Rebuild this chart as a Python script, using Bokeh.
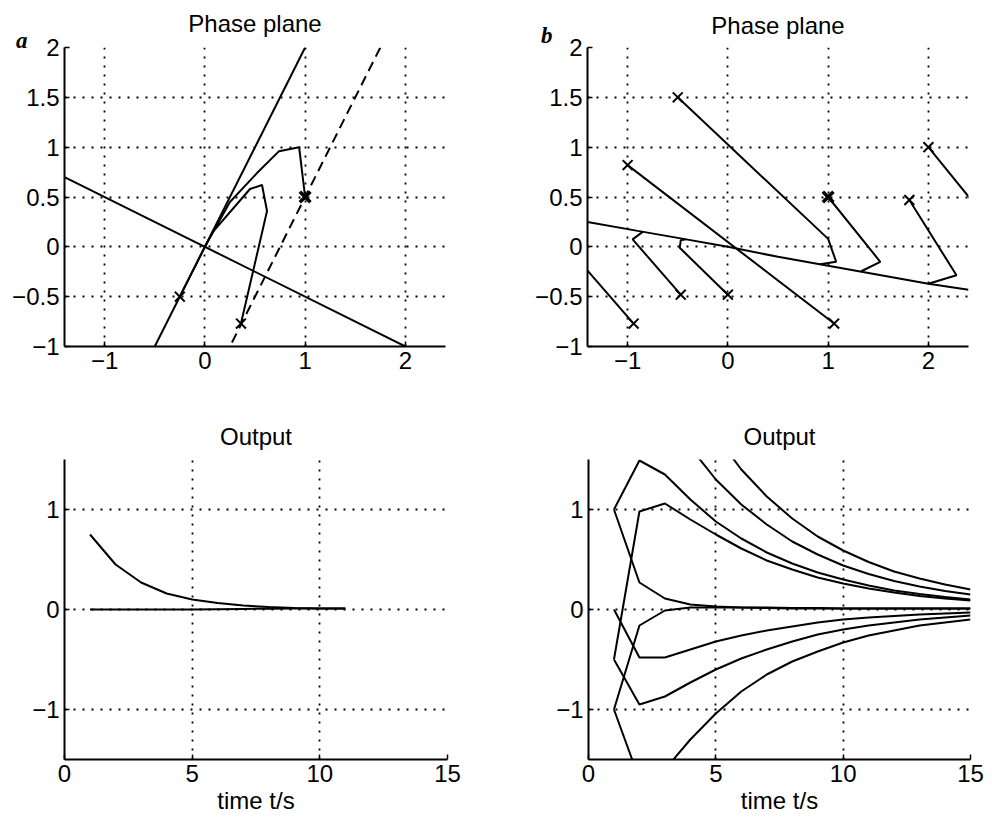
from bokeh.plotting import figure
from bokeh.layouts import row, column
from bokeh.models import Range1d, FixedTicker, LinearAxis
from bokeh.embed import file_html
from bokeh.resources import INLINE

FONT = "Liberation Sans"
FS = "24px"

# ---------------- data ----------------
a_line1_x = [-0.5, 1.0]
a_line1_y = [-1.0, 2.0]
a_line2_x = [-1.4, 2.0]
a_line2_y = [0.7, -1.0]
a_dash_x = [0.27, 1.75]
a_dash_y = [-0.96, 2.0]
a_traj1_x = [1.0, 0.94, 0.74, 0.52, 0.25, 0.0, -0.25]
a_traj1_y = [0.5, 1.0, 0.96, 0.74, 0.45, 0.0, -0.5]
a_traj2_x = [0.36, 0.62, 0.57, 0.45, 0.08, 0.0]
a_traj2_y = [-0.77, 0.36, 0.62, 0.58, 0.15, 0.0]
a_mark_x = [1.0, -0.25, 0.36]
a_mark_y = [0.5, -0.5, -0.77]

b_switch_x = [-1.4, -0.9, -0.5, 0.0, 0.5, 1.0, 1.5, 2.0, 2.4]
b_switch_y = [0.25, 0.16, 0.09, 0.0, -0.1, -0.19, -0.28, -0.37, -0.43]
b_trajs_x = [
    [-0.5, 1.0, 1.08, 0.92],
    [-1.0, 1.06],
    [1.0, 1.52, 1.33],
    [1.81, 2.28, 2.0],
    [2.0, 2.42],
    [-0.47, -0.95, -0.85],
    [0.0, -0.48, -0.47, -0.42],
    [-0.94, -1.45],
]
b_trajs_y = [
    [1.5, 0.08, -0.15, -0.175],
    [0.82, -0.77],
    [0.5, -0.15, -0.245],
    [0.47, -0.285, -0.37],
    [1.0, 0.48],
    [-0.48, 0.075, 0.15],
    [-0.48, -0.01, 0.065, 0.075],
    [-0.77, -0.18],
]
b_mark_x = [-0.5, -1.0, 1.0, 1.81, 2.0, -0.47, 0.0, -0.94, 1.06]
b_mark_y = [1.5, 0.82, 0.5, 0.47, 1.0, -0.48, -0.48, -0.77, -0.77]

out_a_t = [1, 2, 3, 4, 5, 6, 7, 8, 9, 10, 11]
out_a_y1 = [0.75, 0.45, 0.27, 0.16, 0.10, 0.065, 0.04, 0.025, 0.015, 0.01, 0.01]
out_a_y2 = [0.0, 0.0, 0.0, 0.0, 0.0, 0.003, 0.006, 0.008, 0.01, 0.01, 0.01]

out_b_t = list(range(1, 16))
out_b_series = [
    [1.0, 0.27, 0.11, 0.05, 0.03, 0.02, 0.015, 0.01, 0.01, 0.01, 0.01, 0.01, 0.01, 0.01, 0.01],
    [-1.0, -0.16, -0.01, 0.02, 0.02, 0.02, 0.02, 0.015, 0.015, 0.01, 0.01, 0.01, 0.01, 0.01, 0.01],
    [1.0, 1.49, 1.35, 1.1, 0.88, 0.71, 0.57, 0.46, 0.37, 0.3, 0.24, 0.19, 0.155, 0.125, 0.1],
    [-0.5, 0.98, 1.06, 0.9, 0.75, 0.61, 0.49, 0.4, 0.32, 0.26, 0.21, 0.17, 0.135, 0.11, 0.09],
    [3.1, 2.5, 2.0, 1.62, 1.3, 1.05, 0.85, 0.68, 0.55, 0.44, 0.355, 0.285, 0.23, 0.185, 0.15],
    [4.1, 3.3, 2.7, 2.16, 1.74, 1.4, 1.13, 0.91, 0.73, 0.59, 0.475, 0.38, 0.31, 0.25, 0.2],
    [0.0, -0.48, -0.48, -0.4, -0.32, -0.26, -0.21, -0.17, -0.13, -0.1, -0.08, -0.065, -0.05, -0.04, -0.03],
    [-0.5, -0.95, -0.87, -0.73, -0.6, -0.49, -0.4, -0.32, -0.25, -0.2, -0.16, -0.13, -0.1, -0.08, -0.06],
    [-1.0, -1.7, -1.6, -1.3, -1.04, -0.82, -0.65, -0.52, -0.42, -0.33, -0.26, -0.21, -0.16, -0.13, -0.1],
]

phase_xticks = [-1, 0, 1, 2]
phase_xlabels = ["\u22121", "0", "1", "2"]
phase_yticks = [-1, -0.5, 0, 0.5, 1, 1.5, 2]
phase_ylabels = ["\u22121", "\u22120.5", "0", "0.5", "1", "1.5", "2"]
out_xticks = [0, 5, 10, 15]
out_xlabels = ["0", "5", "10", "15"]
out_yticks = [-1, 0, 1]
out_ylabels = ["\u22121", "0", "1"]
panel_letters = ["a", "b"]


def make_fig(title, w, h, bl, br, bt, bb, xr, yr, xt, xl, yt, yl, xgrid, ygrid,
             xlabel=None, title_standoff=18):
    p = figure(width=w, height=h, output_backend="svg", toolbar_location=None,
               x_range=Range1d(*xr), y_range=Range1d(*yr),
               min_border_left=bl, min_border_right=br, min_border_top=bt, min_border_bottom=bb)
    p.title.text = title
    p.title.align = "center"
    p.title.vertical_align = "top"
    p.title.text_font = FONT
    p.title.text_font_size = FS
    p.title.text_font_style = "normal"
    p.title.text_color = "black"
    p.title.standoff = title_standoff
    p.outline_line_color = None
    p.background_fill_color = "white"
    p.border_fill_color = "white"
    for ax, ticks, labels in ((p.xaxis[0], xt, xl), (p.yaxis[0], yt, yl)):
        ax.ticker = FixedTicker(ticks=ticks)
        ax.major_label_overrides = {t: s for t, s in zip(ticks, labels)}
        ax.axis_line_color = "black"
        ax.axis_line_width = 2
        ax.major_tick_in = 5
        ax.major_tick_out = 0
        ax.major_tick_line_width = 1.5
        ax.minor_tick_line_color = None
        ax.major_label_text_font = FONT
        ax.major_label_text_font_size = FS
        ax.major_label_text_color = "black"
        ax.major_label_standoff = 5
    if xlabel:
        p.xaxis.axis_label = xlabel
        p.xaxis.axis_label_text_font = FONT
        p.xaxis.axis_label_text_font_size = FS
        p.xaxis.axis_label_text_font_style = "normal"
        p.xaxis.axis_label_text_color = "black"
        p.xaxis.axis_label_standoff = 2
    p.xgrid.ticker = FixedTicker(ticks=xgrid)
    p.ygrid.ticker = FixedTicker(ticks=ygrid)
    for g in (p.xgrid[0], p.ygrid[0]):
        g.grid_line_color = "black"
        g.grid_line_width = 1.8
        g.grid_line_dash = "2 7"
        g.grid_line_alpha = 1.0
    return p


def add_letter(p, letter, standoff, line_height):
    ax = LinearAxis(ticker=FixedTicker(ticks=[2]), major_label_overrides={2: letter + "\n"},
                    axis_line_color=None, major_tick_line_color=None, minor_tick_line_color=None,
                    major_tick_in=0, major_tick_out=0, major_label_standoff=standoff,
                    major_label_text_font="Liberation Serif", major_label_text_font_style="bold italic",
                    major_label_text_font_size="23px", major_label_text_color="black",
                    major_label_text_line_height=line_height)
    p.add_layout(ax, "left")


LW = 2

# ---- panel a phase plane ----
p1 = make_fig("Phase plane", 500, 410, 64, 55, 46, 64, (-1.4, 2.4), (-1, 2),
              phase_xticks, phase_xlabels, phase_yticks, phase_ylabels,
              [-1, 0, 1, 2], [-0.5, 0, 0.5, 1, 1.5, 2])
p1.line(a_line1_x, a_line1_y, line_color="black", line_width=LW)
p1.line(a_line2_x, a_line2_y, line_color="black", line_width=LW)
p1.line(a_dash_x, a_dash_y, line_color="black", line_width=LW, line_dash="10 6")
p1.line(a_traj1_x, a_traj1_y, line_color="black", line_width=LW)
p1.line(a_traj2_x, a_traj2_y, line_color="black", line_width=LW)
p1.scatter(a_mark_x[1:], a_mark_y[1:], marker="x", size=14, line_color="black", line_width=2)
p1.scatter(a_mark_x[:1], a_mark_y[:1], marker="x", size=15, line_color="black", line_width=3.5)
add_letter(p1, panel_letters[0], -18, 0.6)

# ---- panel b phase plane ----
p2 = make_fig("Phase plane", 492, 410, 87, 24, 46, 64, (-1.4, 2.4), (-1, 2),
              phase_xticks, phase_xlabels, phase_yticks, phase_ylabels,
              [-1, 0, 1, 2], [-0.5, 0, 0.5, 1, 1.5, 2], title_standoff=14)
p2.line(b_switch_x, b_switch_y, line_color="black", line_width=LW)
for xs, ys in zip(b_trajs_x, b_trajs_y):
    p2.line(xs, ys, line_color="black", line_width=LW)
p2.scatter([x for i, x in enumerate(b_mark_x) if i != 2], [y for i, y in enumerate(b_mark_y) if i != 2],
           marker="x", size=14, line_color="black", line_width=2)
p2.scatter(b_mark_x[2:3], b_mark_y[2:3], marker="x", size=15, line_color="black", line_width=3.5)
add_letter(p2, panel_letters[1], -20, 1.0)

# ---- panel a output ----
p3 = make_fig("Output", 500, 410, 64, 53, 49, 61, (0, 15), (-1.5, 1.5),
              out_xticks, out_xlabels, out_yticks, out_ylabels,
              [5, 10, 15], [-1, 0, 1, 1.5], xlabel="time t/s", title_standoff=16)
p3.line(out_a_t, out_a_y2, line_color="black", line_width=LW)
p3.line(out_a_t, out_a_y1, line_color="black", line_width=LW)

# ---- panel b output ----
p4 = make_fig("Output", 492, 410, 88, 22, 49, 61, (0, 15), (-1.5, 1.5),
              out_xticks, out_xlabels, out_yticks, out_ylabels,
              [5, 10, 15], [-1, 0, 1, 1.5], xlabel="time t/s", title_standoff=16)
for ys in out_b_series:
    p4.line(out_b_t, ys, line_color="black", line_width=LW)

layout = column(row(p1, p2), row(p3, p4))

open("out.html", "w").write(file_html(layout, INLINE))
